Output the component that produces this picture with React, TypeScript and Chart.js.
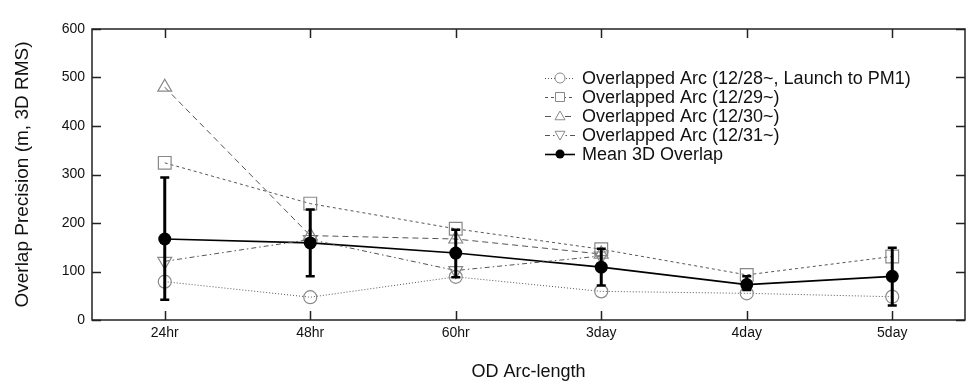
import React, { useEffect, useRef } from "react";
import { Chart, registerables } from "chart.js";

Chart.register(...registerables);

const categories = ["24hr", "48hr", "60hr", "3day", "4day", "5day"];
const arc1228 = [79, 47, 89, 59, 55, 48];
const arc1229 = [324, 240, 188, 146, 93, 131];
const arc1230 = [480, 174, 167, 136, null, null];
const arc1231 = [121, 166, 102, 132, null, null];
const meanOverlap = [167, 159, 138, 109, 73, 90];
const errLow = [42, 90, 88, 71, 62, 30];
const errHigh = [294, 228, 186, 147, 90, 149];
const yTicks = [0, 100, 200, 300, 400, 500, 600];

const legendLabels = [
  "Overlapped Arc (12/28~, Launch to PM1)",
  "Overlapped Arc (12/29~)",
  "Overlapped Arc (12/30~)",
  "Overlapped Arc (12/31~)",
  "Mean 3D Overlap",
];

const FONT = "'Liberation Sans', Arial, Helvetica, sans-serif";
const GRAY_LINE = "#555";
const GRAY_MARK = "#888";

function drawMarker(ctx: CanvasRenderingContext2D, style: string, x: number, y: number, r: number, color: string) {
  ctx.save();
  ctx.setLineDash([]);
  ctx.strokeStyle = color;
  ctx.lineWidth = 1;
  ctx.beginPath();
  if (style === "circle") {
    ctx.arc(x, y, r, 0, Math.PI * 2);
  } else if (style === "rect") {
    ctx.rect(x - r, y - r, 2 * r, 2 * r);
  } else if (style === "tri") {
    ctx.moveTo(x, y - r);
    ctx.lineTo(x + r, y + r * 0.75);
    ctx.lineTo(x - r, y + r * 0.75);
    ctx.closePath();
  } else if (style === "triDown") {
    ctx.moveTo(x, y + r);
    ctx.lineTo(x + r, y - r * 0.75);
    ctx.lineTo(x - r, y - r * 0.75);
    ctx.closePath();
  }
  ctx.stroke();
  ctx.restore();
}

const framePlugin = {
  id: "frameAndExtras",
  afterDatasetsDraw(chart: any) {
    const ctx: CanvasRenderingContext2D = chart.ctx;
    const xs = chart.scales.x;
    const ys = chart.scales.y;
    ctx.save();
    ctx.strokeStyle = "#000";
    ctx.setLineDash([]);
    for (let i = 0; i < categories.length; i++) {
      const x = xs.getPixelForValue(i);
      const y1 = ys.getPixelForValue(errLow[i]);
      const y2 = ys.getPixelForValue(errHigh[i]);
      ctx.lineWidth = 3;
      ctx.beginPath();
      ctx.moveTo(x, y1);
      ctx.lineTo(x, y2);
      ctx.stroke();
      ctx.lineWidth = 2.5;
      ctx.beginPath();
      ctx.moveTo(x - 4.5, y1);
      ctx.lineTo(x + 4.5, y1);
      ctx.moveTo(x - 4.5, y2);
      ctx.lineTo(x + 4.5, y2);
      ctx.stroke();
      const ym = ys.getPixelForValue(meanOverlap[i]);
      ctx.fillStyle = "#000";
      ctx.beginPath();
      ctx.arc(x, ym, 6.5, 0, Math.PI * 2);
      ctx.fill();
    }
    ctx.restore();
  },
  afterDraw(chart: any) {
    const ctx: CanvasRenderingContext2D = chart.ctx;
    const { left, right, top, bottom } = chart.chartArea;
    const xs = chart.scales.x;
    const ys = chart.scales.y;
    ctx.save();
    ctx.setLineDash([]);
    ctx.strokeStyle = "#222";
    ctx.lineWidth = 1.5;
    ctx.strokeRect(left, top, right - left, bottom - top);
    const tl = 9;
    ctx.beginPath();
    for (let i = 0; i < categories.length; i++) {
      const x = Math.round(xs.getPixelForValue(i)) + 0.5;
      ctx.moveTo(x, bottom);
      ctx.lineTo(x, bottom - tl);
      ctx.moveTo(x, top);
      ctx.lineTo(x, top + tl);
    }
    for (const v of yTicks) {
      const y = Math.round(ys.getPixelForValue(v)) + 0.5;
      ctx.moveTo(left, y);
      ctx.lineTo(left + tl, y);
      ctx.moveTo(right, y);
      ctx.lineTo(right - tl, y);
    }
    ctx.stroke();

    // legend
    const rows = [78, 97, 116, 135, 154];
    const styles = ["circle", "rect", "tri", "triDown", "mean"];
    const dashes = [[1, 2], [3, 3], [6, 4], [5, 3, 1.5, 3], []];
    const x0 = 545, x1 = 575, xm = 560;
    ctx.font = `18px ${FONT}`;
    ctx.textBaseline = "middle";
    ctx.textAlign = "left";
    for (let i = 0; i < rows.length; i++) {
      const y = rows[i];
      ctx.save();
      if (styles[i] === "mean") {
        ctx.strokeStyle = "#000";
        ctx.lineWidth = 1.6;
      } else {
        ctx.strokeStyle = GRAY_LINE;
        ctx.lineWidth = 1;
      }
      ctx.setLineDash(dashes[i]);
      ctx.beginPath();
      ctx.moveTo(x0, y + 0.5);
      ctx.lineTo(x1, y + 0.5);
      ctx.stroke();
      ctx.restore();
      if (styles[i] === "mean") {
        ctx.fillStyle = "#000";
        ctx.beginPath();
        ctx.arc(xm, y, 4.5, 0, Math.PI * 2);
        ctx.fill();
      } else {
        ctx.fillStyle = "#fff";
        ctx.beginPath();
        ctx.arc(xm, y, 5, 0, Math.PI * 2);
        ctx.fill();
        drawMarker(ctx, styles[i], xm, y, styles[i] === "rect" ? 4.5 : 5, GRAY_MARK);
      }
      ctx.fillStyle = "#111";
      ctx.fillText(legendLabels[i], 582, y + 1);
    }
    ctx.restore();
  },
};

export default function App() {
  const ref = useRef<HTMLCanvasElement | null>(null);
  useEffect(() => {
    document.body.style.margin = "0";
    const canvas = ref.current;
    if (!canvas) return;
    const grayDs = (label: string, data: (number | null)[], style: string, dash: number[], radius: number, rotation = 0) => ({
      label,
      data,
      borderColor: GRAY_LINE,
      borderWidth: 1,
      borderDash: dash,
      pointStyle: style,
      pointRadius: radius,
      pointRotation: rotation,
      pointBorderColor: GRAY_MARK,
      pointBackgroundColor: "rgba(0,0,0,0)",
      pointBorderWidth: 1.2,
      spanGaps: false,
      tension: 0,
    });
    const chart = new Chart(canvas, {
      type: "line",
      data: {
        labels: categories,
        datasets: [
          grayDs(legendLabels[0], arc1228, "circle", [1, 2], 6.5),
          grayDs(legendLabels[1], arc1229, "rect", [3, 3], 9),
          grayDs(legendLabels[2], arc1230, "triangle", [6, 4], 8),
          grayDs(legendLabels[3], arc1231, "triangle", [5, 3, 1.5, 3], 8, 180),
          {
            label: legendLabels[4],
            data: meanOverlap,
            borderColor: "#000",
            borderWidth: 1.6,
            pointRadius: 0,
            tension: 0,
          },
        ],
      },
      options: {
        responsive: false,
        animation: false,
        devicePixelRatio: 1,
        layout: { padding: { top: 29, right: 12, left: 0, bottom: 0 } },
        plugins: {
          legend: { display: false },
          tooltip: { enabled: false },
        },
        scales: {
          x: {
            type: "category",
            offset: true,
            grid: { display: false, drawTicks: false },
            border: { display: false },
            ticks: { color: "#111", font: { family: FONT, size: 14 }, padding: 5 },
            title: {
              display: true,
              text: "OD Arc-length",
              color: "#111",
              font: { family: FONT, size: 18 },
              padding: { top: 7, bottom: 7 },
            },
            afterFit(scale: any) {
              scale.height = 70;
            },
          },
          y: {
            min: 0,
            max: 600,
            grid: { display: false, drawTicks: false },
            border: { display: false },
            ticks: { stepSize: 100, color: "#111", font: { family: FONT, size: 14 }, padding: 7 },
            title: {
              display: true,
              text: "Overlap Precision (m, 3D RMS)",
              color: "#111",
              font: { family: FONT, size: 19 },
              padding: { top: 11, bottom: 11 },
            },
            afterFit(scale: any) {
              scale.width = 92;
            },
          },
        },
      },
      plugins: [framePlugin],
    } as any);
    return () => chart.destroy();
  }, []);
  return (
    <div style={{ position: "absolute", left: 0, top: 0, width: 977, height: 390, background: "#fff" }}>
      <canvas ref={ref} width={977} height={390} style={{ display: "block" }} />
    </div>
  );
}
